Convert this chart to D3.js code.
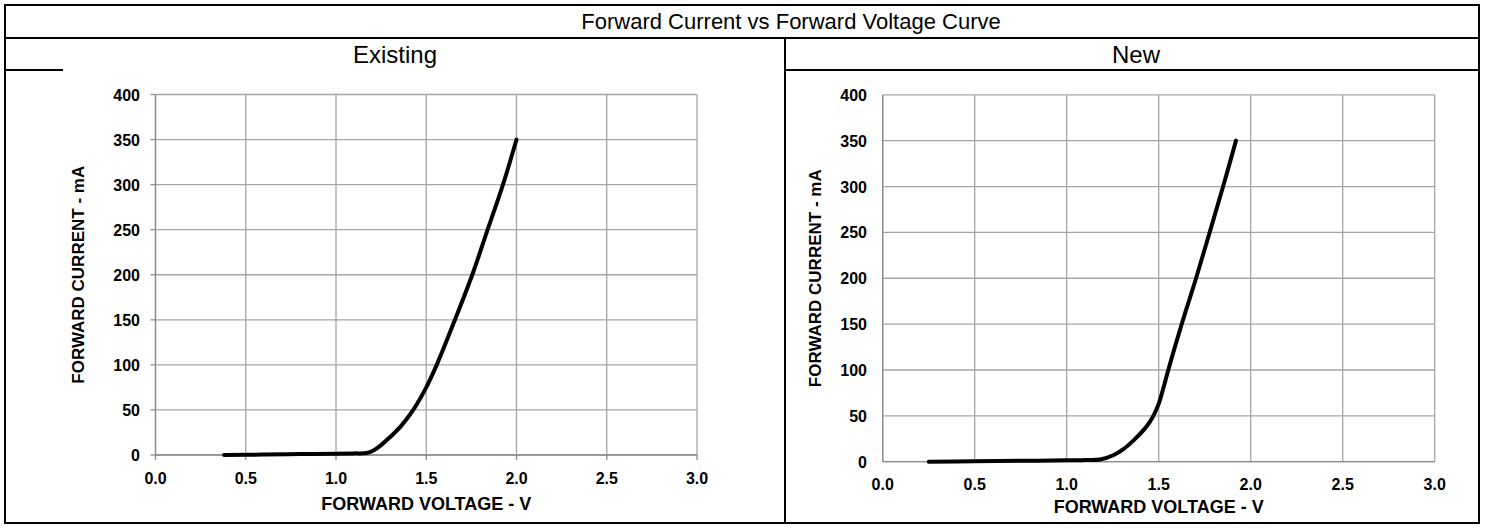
<!DOCTYPE html>
<html><head><meta charset="utf-8">
<script src="https://cdn.jsdelivr.net/npm/d3@7"></script>
<style>html,body{margin:0;padding:0;background:#fff;}svg{display:block;font-family:Arial,"Liberation Sans",sans-serif;}</style>
</head><body>
<svg id="c" width="1485" height="529"></svg>
<script>
const mainTitle = "Forward Current vs Forward Voltage Curve";
const panelTitles = ["Existing", "New"];
const xTicks = [0, 0.5, 1.0, 1.5, 2.0, 2.5, 3.0];
const yTicks = [0, 50, 100, 150, 200, 250, 300, 350, 400];
const xLabel = "FORWARD VOLTAGE - V";
const yLabel = "FORWARD CURRENT - mA";
const existingV = [0.38, 0.6, 0.8, 1.0, 1.1, 1.17, 1.207, 1.25, 1.3, 1.36, 1.428, 1.5, 1.558, 1.659, 1.755, 1.84, 1.925, 2.0];
const existingI = [0, 0.5, 1, 1.5, 1.8, 2.2, 5, 11, 20, 32, 50, 75, 100, 150, 200, 250, 300, 350];
const newV = [0.25, 0.5, 0.75, 1.0, 1.1, 1.18, 1.253, 1.31, 1.362, 1.42, 1.45, 1.471, 1.5, 1.525, 1.552, 1.625, 1.703, 1.777, 1.85, 1.92];
const newI = [0, 0.5, 1, 1.5, 1.8, 2.3, 7, 14, 23, 35, 43, 50, 63, 80, 100, 150, 200, 250, 300, 350];

const svg = d3.select("#c");

const T = {l:5, r:1479, t:5, b:523, row1:38, row2:70, mid:785};
const frame = svg.append("g").attr("stroke","#000").attr("stroke-width",2).attr("fill","none");
frame.append("rect").attr("x",T.l).attr("y",T.t).attr("width",T.r-T.l).attr("height",T.b-T.t);
frame.append("line").attr("x1",T.l).attr("x2",T.r).attr("y1",T.row1).attr("y2",T.row1);
frame.append("line").attr("x1",T.mid).attr("x2",T.mid).attr("y1",T.row1).attr("y2",T.b);
frame.append("line").attr("x1",T.l).attr("x2",63).attr("y1",T.row2).attr("y2",T.row2);
frame.append("line").attr("x1",T.mid).attr("x2",T.r).attr("y1",T.row2).attr("y2",T.row2);

svg.append("text").attr("x",791).attr("y",29).attr("text-anchor","middle")
  .attr("font-size",22).text(mainTitle);
svg.append("text").attr("x",395).attr("y",63).attr("text-anchor","middle")
  .attr("font-size",24).text(panelTitles[0]);
svg.append("text").attr("x",1136).attr("y",63).attr("text-anchor","middle")
  .attr("font-size",24).text(panelTitles[1]);

const panels = [
  {V: existingV, I: existingI, x0:155.5, x1:697, y0:455, y1:94.5, ticks:true,
   yLabRight:140, xLabY:484, xTitleY:509.5, yTitleX:78},
  {V: newV, I: newI, x0:882.7, x1:1434.7, y0:461.7, y1:94.8, ticks:false,
   yLabRight:867, xLabY:490, xTitleY:513, yTitleX:815}
];

panels.forEach(p => {
  const x = d3.scaleLinear().domain([0,3]).range([p.x0,p.x1]);
  const y = d3.scaleLinear().domain([0,400]).range([p.y0,p.y1]);
  const g = svg.append("g");
  g.append("g").selectAll("line").data(xTicks).join("line")
    .attr("x1",d=>x(d)).attr("x2",d=>x(d)).attr("y1",y(0)).attr("y2",y(400))
    .attr("stroke","#a6a6a6").attr("stroke-width",1.3);
  g.append("g").selectAll("line").data(yTicks).join("line")
    .attr("x1",x(0)).attr("x2",x(3)).attr("y1",d=>y(d)).attr("y2",d=>y(d))
    .attr("stroke","#a6a6a6").attr("stroke-width",1.3);
  g.append("line").attr("x1",x(0)).attr("x2",x(0)).attr("y1",y(0)).attr("y2",y(400)).attr("stroke","#8c8c8c").attr("stroke-width",1.3);
  g.append("line").attr("x1",x(0)).attr("x2",x(3)).attr("y1",y(0)).attr("y2",y(0)).attr("stroke","#8c8c8c").attr("stroke-width",1.3);
  if (p.ticks) {
    g.append("g").selectAll("line").data(xTicks).join("line")
      .attr("x1",d=>x(d)).attr("x2",d=>x(d)).attr("y1",y(0)).attr("y2",y(0)+5)
      .attr("stroke","#8c8c8c").attr("stroke-width",1.3);
    g.append("g").selectAll("line").data(yTicks).join("line")
      .attr("x1",x(0)-5).attr("x2",x(0)).attr("y1",d=>y(d)).attr("y2",d=>y(d))
      .attr("stroke","#8c8c8c").attr("stroke-width",1.3);
  }
  g.append("g").selectAll("text").data(xTicks).join("text")
    .attr("x",d=>x(d)).attr("y",p.xLabY).attr("text-anchor","middle")
    .attr("font-size",16).attr("font-weight","bold").text(d=>d3.format(".1f")(d));
  g.append("g").selectAll("text").data(yTicks).join("text")
    .attr("x",p.yLabRight).attr("y",d=>y(d)+6).attr("text-anchor","end")
    .attr("font-size",16).attr("font-weight","bold").text(d=>d);
  g.append("text").attr("x",(p.x0+p.x1)/2).attr("y",p.xTitleY).attr("text-anchor","middle")
    .attr("font-size",18).attr("font-weight","bold").text(xLabel);
  g.append("text").attr("transform",`translate(${p.yTitleX},${(p.y0+p.y1)/2}) rotate(-90)`)
    .attr("text-anchor","middle").attr("dominant-baseline","central")
    .attr("font-size",17).attr("font-weight","bold").text(yLabel);
  const pts = p.V.map((v,i)=>[v,p.I[i]]);
  const line = d3.line().x(d=>x(d[0])).y(d=>y(d[1])).curve(d3.curveCatmullRom.alpha(0.5));
  g.append("path").attr("d",line(pts)).attr("fill","none").attr("stroke","#000")
    .attr("stroke-width",4).attr("stroke-linecap","round").attr("stroke-linejoin","round");
});
</script>
</body></html>
